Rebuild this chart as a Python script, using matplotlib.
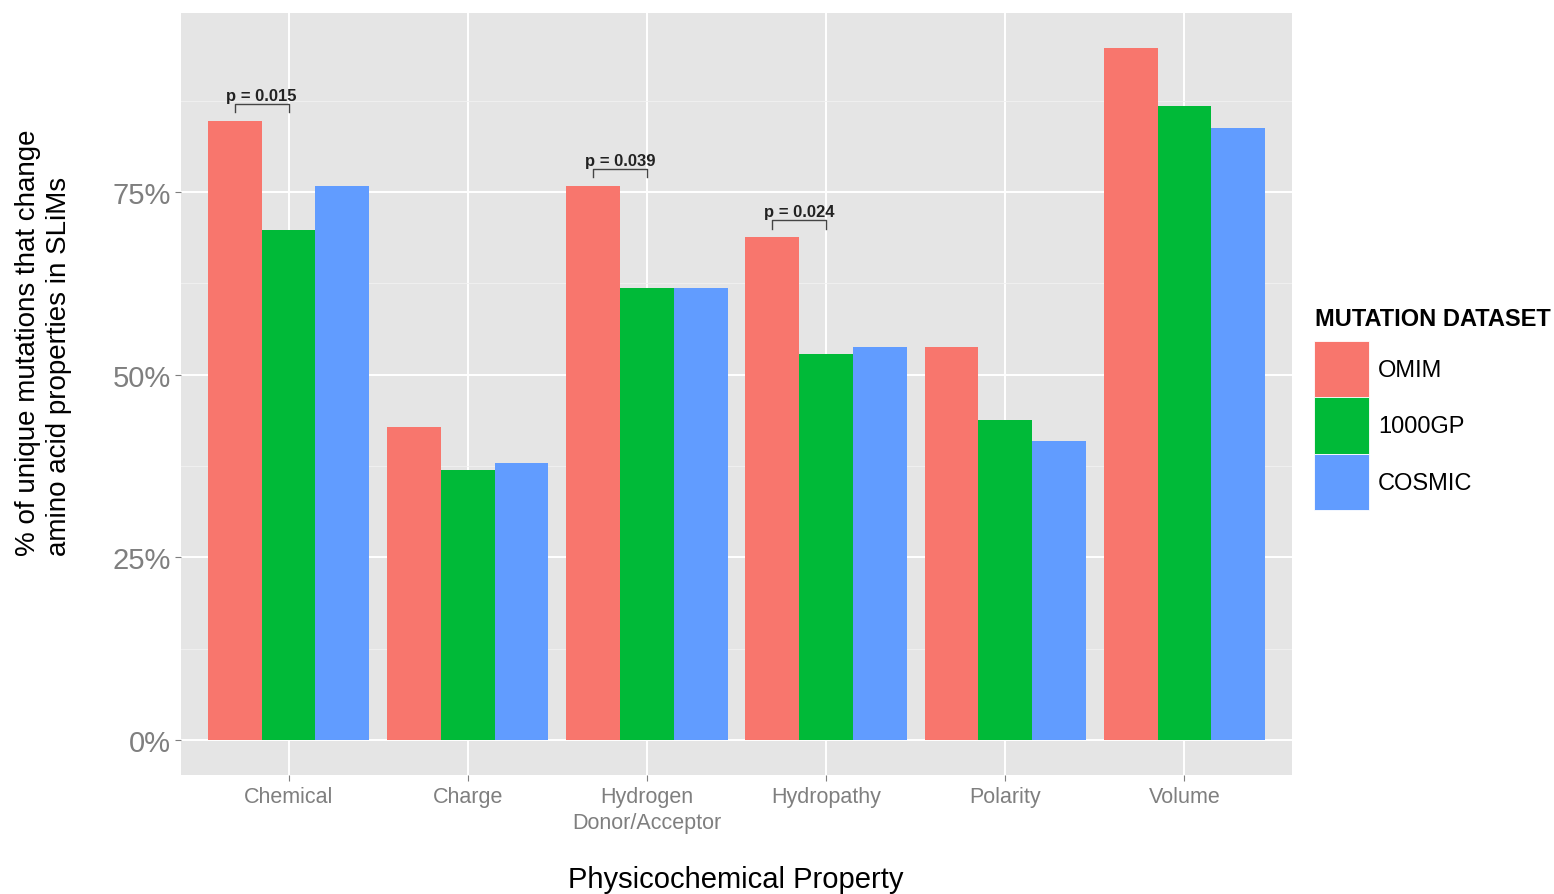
import numpy as np
import matplotlib
matplotlib.use("Agg")
import matplotlib.pyplot as plt
from matplotlib.patches import Patch

plt.rcParams['font.family'] = ['Liberation Sans', 'DejaVu Sans']

categories = ['Chemical', 'Charge', 'Hydrogen\nDonor/Acceptor', 'Hydropathy', 'Polarity', 'Volume']
datasets = ['OMIM', '1000GP', 'COSMIC']
colors = ['#F8766D', '#00BA38', '#619CFF']

omim = [84.7, 42.8, 75.8, 68.8, 53.8, 94.7]
kgp = [69.8, 37.0, 61.9, 52.8, 43.8, 86.8]
cosmic = [75.8, 37.9, 61.9, 53.8, 40.9, 83.8]

# significant OMIM vs 1000GP comparisons: category index, p-value
pvals = [(0, '0.015'), (2, '0.039'), (3, '0.024')]

fig = plt.figure(figsize=(15.54, 8.95), dpi=100)
ax = fig.add_axes([181/1554, 119/895, 1111/1554, 762/895])
ax.set_facecolor('#E5E5E5')

x = np.arange(len(categories)) + 1
w = 0.3
for i, (vals, name, c) in enumerate(zip([omim, kgp, cosmic], datasets, colors)):
    ax.bar(x + (i - 1) * w, vals, width=w, color=c, label=name, zorder=3, linewidth=0)

# brackets + p-value labels
for idx, p in pvals:
    x0 = x[idx] - w
    x1 = x[idx]
    top = omim[idx]
    lo, hi = top + 1.2, top + 2.4
    ax.plot([x0, x0, x1, x1], [lo, hi, hi, lo], color='#444444', lw=1.0, zorder=4)
    ax.text((x0 + x1) / 2, hi + 0.1, 'p = ' + p, ha='center', va='bottom',
            fontsize=12, fontweight='bold', color='#222222', zorder=5)

ax.set_xlim(0.4, 6.6)
ax.set_ylim(-4.8, 99.5)
ax.set_yticks([0, 25, 50, 75])
ax.set_yticklabels(['0%', '25%', '50%', '75%'])
ax.set_yticks([12.5, 37.5, 62.5, 87.5], minor=True)
ax.set_xticks(x)
ax.set_xticklabels(categories, linespacing=1.3)

ax.grid(which='major', color='white', lw=1.4, zorder=0)
ax.grid(which='minor', axis='y', color='#F2F2F2', lw=0.6, zorder=0)
ax.tick_params(axis='y', which='minor', length=0)
ax.tick_params(axis='y', which='major', labelsize=21, labelcolor='#7F7F7F',
               color='#7F7F7F', length=4, pad=3)
ax.tick_params(axis='x', which='major', labelsize=15.5, labelcolor='#7F7F7F',
               color='#7F7F7F', length=4, pad=4)
for s in ax.spines.values():
    s.set_visible(False)

fig.text(736/1554, 1 - 880/895, 'Physicochemical Property', ha='center', va='center',
         fontsize=21)

fig.text(44/1554, 1 - 343/895, '% of unique mutations that change\namino acid properties in SLiMs',
         rotation=90, ha='center', va='center', multialignment='left',
         fontsize=20, linespacing=1.25)

fig.text(1315/1554, 1 - 320/895, 'MUTATION DATASET', ha='left', va='center',
         fontsize=17, fontweight='bold')
handles = [Patch(facecolor=c, edgecolor='white', linewidth=0.6) for c in colors]
leg = ax.legend(handles, datasets, frameon=False,
                loc='upper left', bbox_to_anchor=(1314/1554, 1 - 342/895),
                bbox_transform=fig.transFigure, fontsize=17,
                handlelength=2.35, handleheight=3.3, labelspacing=0.0,
                handletextpad=0.35, borderaxespad=0, borderpad=0)

fig.savefig('out.png', dpi=100)
